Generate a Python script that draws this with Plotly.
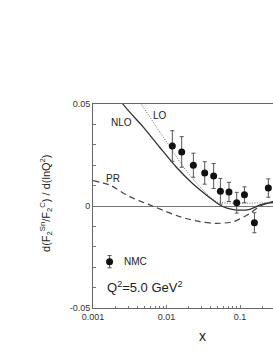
import plotly.graph_objects as go

# NMC data
nmc_x = [0.0120, 0.0161, 0.0232, 0.0331, 0.0438, 0.0541, 0.0708, 0.0902, 0.115, 0.157, 0.243]
nmc_y = [0.0294, 0.0265, 0.0200, 0.0162, 0.0147, 0.0072, 0.0069, 0.0016, 0.0055, -0.0082, 0.0088]
nmc_err = [0.0075, 0.0075, 0.0059, 0.0055, 0.0061, 0.0063, 0.0047, 0.0051, 0.0039, 0.0049, 0.0045]

# NLO curve
nlo_x = [0.0020, 0.00255, 0.00477, 0.00807, 0.01365, 0.0230, 0.0388, 0.0532, 0.0684, 0.090, 0.137, 0.187, 0.257, 0.35]
nlo_y = [0.0570, 0.0500, 0.0389, 0.0288, 0.0190, 0.0108, 0.0041, 0.0005, -0.0012, -0.0020, -0.0016, 0.0005, 0.0016, 0.0018]

# LO curve
lo_x = [0.0036, 0.00455, 0.0059, 0.00807, 0.0111, 0.0151, 0.0207, 0.0284, 0.0388, 0.048, 0.0724, 0.35]
lo_y = [0.0580, 0.0500, 0.0438, 0.0364, 0.0291, 0.0217, 0.0152, 0.0095, 0.0046, 0.0021, 0.0014, 0.0018]

# PR curve
pr_x = [0.0010, 0.00168, 0.00315, 0.00646, 0.0151, 0.0284, 0.048, 0.0807, 0.137, 0.187, 0.27, 0.35]
pr_y = [0.0124, 0.0103, 0.0046, 0.0000, -0.0052, -0.0077, -0.0085, -0.0077, -0.0036, 0.0000, 0.0021, 0.0026]

# legend key marker
key_x = [0.00168]
key_y = [-0.0273]
key_err = [0.0030]

x_major = [0.001, 0.01, 0.1]
x_labels = ["0.001", "0.01", "0.1"]
x_minor = [m * d for d in (0.001, 0.01, 0.1) for m in range(2, 10)]

y_major = [-0.05, 0, 0.05]
y_labels = ["-0.05", "0", "0.05"]
y_minor = [-0.04, -0.03, -0.02, -0.01, 0.01, 0.02, 0.03, 0.04]

fig = go.Figure()
fig.add_trace(go.Scatter(x=pr_x, y=pr_y, mode="lines",
                         line=dict(color="#444444", width=1.2, dash="6px,4px", shape="spline", smoothing=0.8),
                         showlegend=False))
fig.add_trace(go.Scatter(x=lo_x, y=lo_y, mode="lines",
                         line=dict(color="#666666", width=1, dash="1px,1.5px", shape="spline", smoothing=0.8),
                         showlegend=False))
fig.add_trace(go.Scatter(x=nlo_x, y=nlo_y, mode="lines",
                         line=dict(color="#333333", width=1.3, shape="spline", smoothing=0.8),
                         showlegend=False))
fig.add_trace(go.Scatter(x=nmc_x, y=nmc_y, mode="markers",
                         marker=dict(color="#111111", size=7),
                         error_y=dict(type="data", array=nmc_err, color="#555555", thickness=1, width=2),
                         showlegend=False))
fig.add_trace(go.Scatter(x=key_x, y=key_y, mode="markers",
                         marker=dict(color="#111111", size=7),
                         error_y=dict(type="data", array=key_err, color="#555555", thickness=1, width=2),
                         showlegend=False))

font = "Liberation Sans, Arial, sans-serif"
annots = [
    dict(text="LO", x=0.372, y=0.946, font=dict(size=10)),
    dict(text="NLO", x=0.159, y=0.908, font=dict(size=10)),
    dict(text="PR", x=0.113, y=0.636, font=dict(size=10)),
    dict(text="NMC", x=0.159, y=0.227, xanchor="left", font=dict(size=10)),
    dict(text="Q<sup>2</sup>=5.0 GeV<sup>2</sup>", x=0.067, y=0.104, xanchor="left", font=dict(size=13)),
    dict(text="x", x=0.611, y=-0.137, font=dict(size=14)),
    dict(text="d(F<sub>2</sub><sup>Sn</sup>/F<sub>2</sub><sup>C</sup>) / d(lnQ<sup>2</sup>)", x=-0.261, y=0.515,
         textangle=-90, font=dict(size=11)),
]
for a in annots:
    a.setdefault("xanchor", "center")
    a.update(xref="paper", yref="paper", showarrow=False, yanchor="middle")
    a["font"].update(family=font, color="#222222")
    fig.add_annotation(**a)

axis_common = dict(ticks="inside", ticklen=3, tickcolor="#777777", showgrid=False,
                   showline=True, linecolor="#666666", linewidth=1, tickfont=dict(size=9))
fig.update_layout(
    width=273, height=353,
    margin=dict(l=93, r=0, t=104, b=45),
    paper_bgcolor="white", plot_bgcolor="white",
    font=dict(family=font, size=9, color="#333333"),
    xaxis=dict(type="log", range=[-3, -0.551], tickmode="array", tickvals=x_major, ticktext=x_labels,
               minor=dict(tickmode="array", tickvals=x_minor, ticks="inside", ticklen=2, tickcolor="#777777"),
               zeroline=False, mirror=True, **axis_common),
    yaxis=dict(range=[-0.05, 0.05], tickmode="array", tickvals=y_major, ticktext=y_labels,
               minor=dict(tickmode="array", tickvals=y_minor, ticks="inside", ticklen=3, tickcolor="#777777"),
               zeroline=True, zerolinecolor="#777777", zerolinewidth=1.2, mirror=False, **axis_common),
)
fig.write_html("out.html", config={"displayModeBar": False},
               post_script="document.body.style.margin='0';document.body.style.overflow='hidden';")
